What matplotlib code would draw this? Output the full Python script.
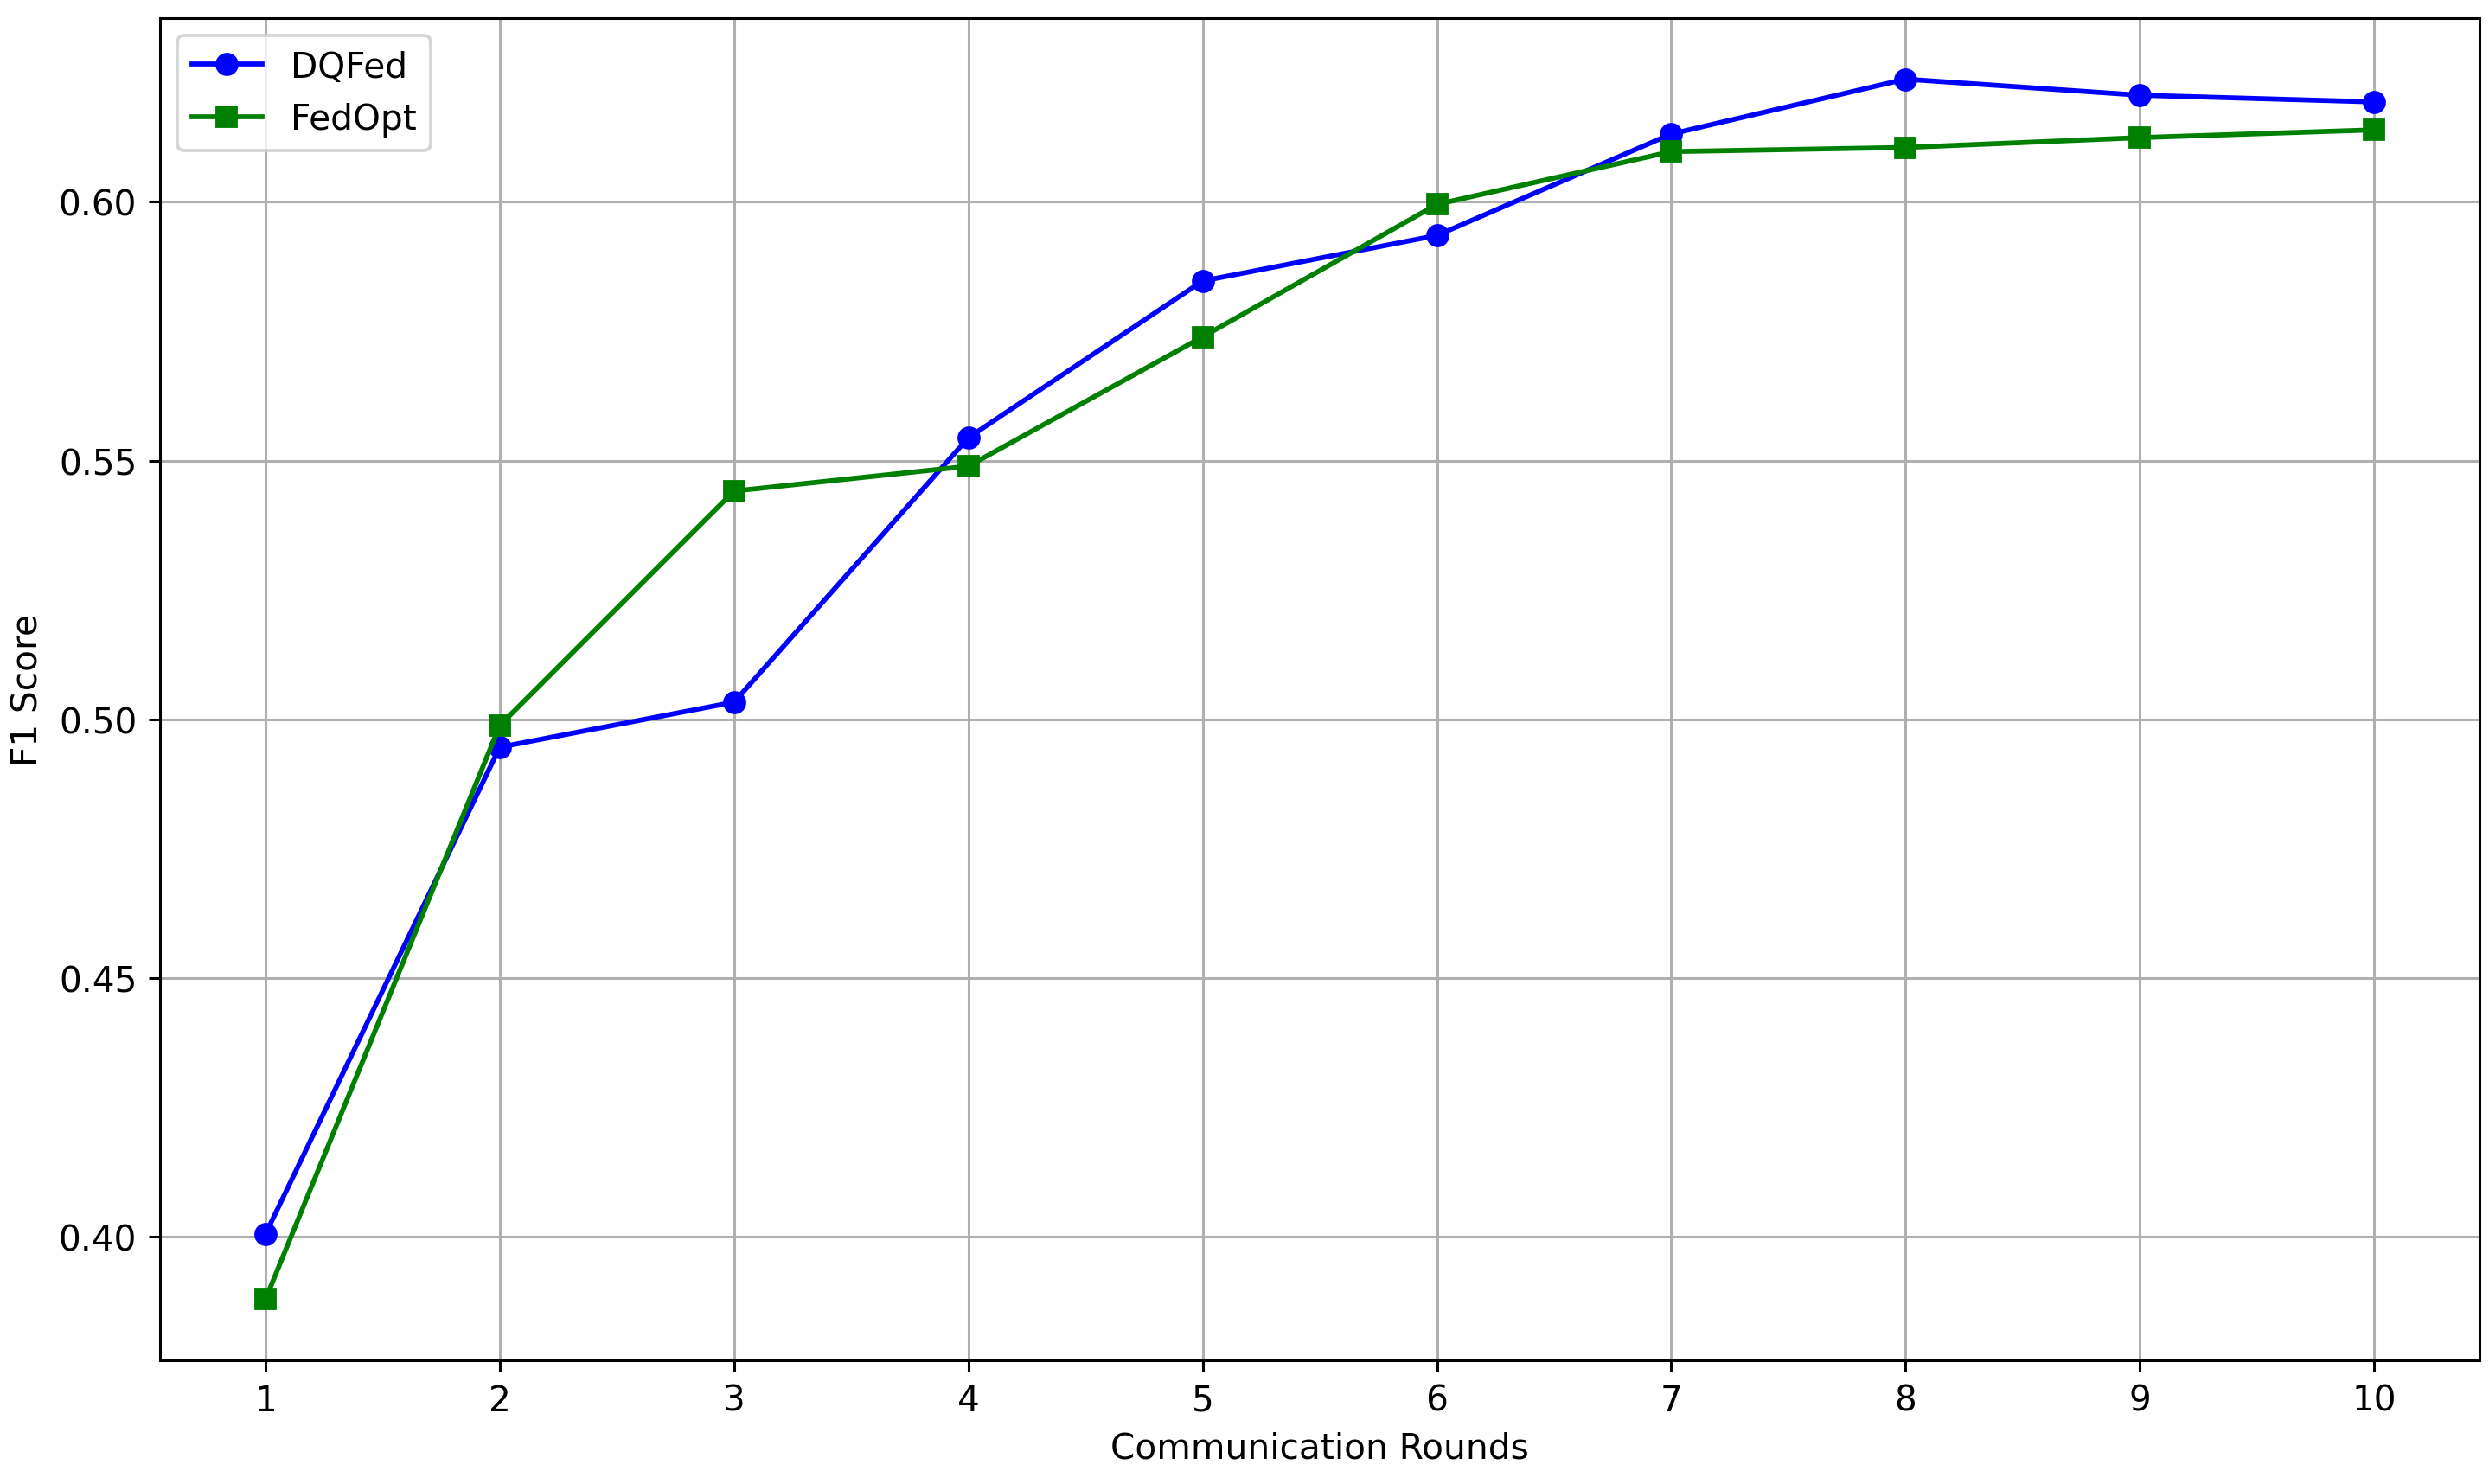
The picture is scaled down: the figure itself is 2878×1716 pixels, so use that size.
import numpy as np
import matplotlib
matplotlib.use('Agg')
import matplotlib.pyplot as plt

plt.rcParams['font.size'] = 10.65

# F1 score per communication round
rounds = np.arange(1, 11)
dqfed_f1 = [0.4005, 0.4946, 0.5033, 0.5544, 0.5847, 0.5935, 0.6131, 0.6237, 0.6206, 0.6193]
fedopt_f1 = [0.3879, 0.4988, 0.5441, 0.5489, 0.5739, 0.5995, 0.6097, 0.6105, 0.6124, 0.6139]

fig = plt.figure(figsize=(2878 / 275, 1717 / 275), dpi=275)
ax = fig.add_axes([0.0643, 0.0833, 0.9319, 0.9039])

ax.plot(rounds, dqfed_f1, 'b-o', label='DQFed')
ax.plot(rounds, fedopt_f1, 'g-s', label='FedOpt')

ax.set_xlabel('Communication Rounds')
ax.set_ylabel('F1 Score')
ax.set_xticks(rounds)
ax.legend(loc='upper left')
ax.grid(True)

fig.savefig('out.png', dpi=275)
